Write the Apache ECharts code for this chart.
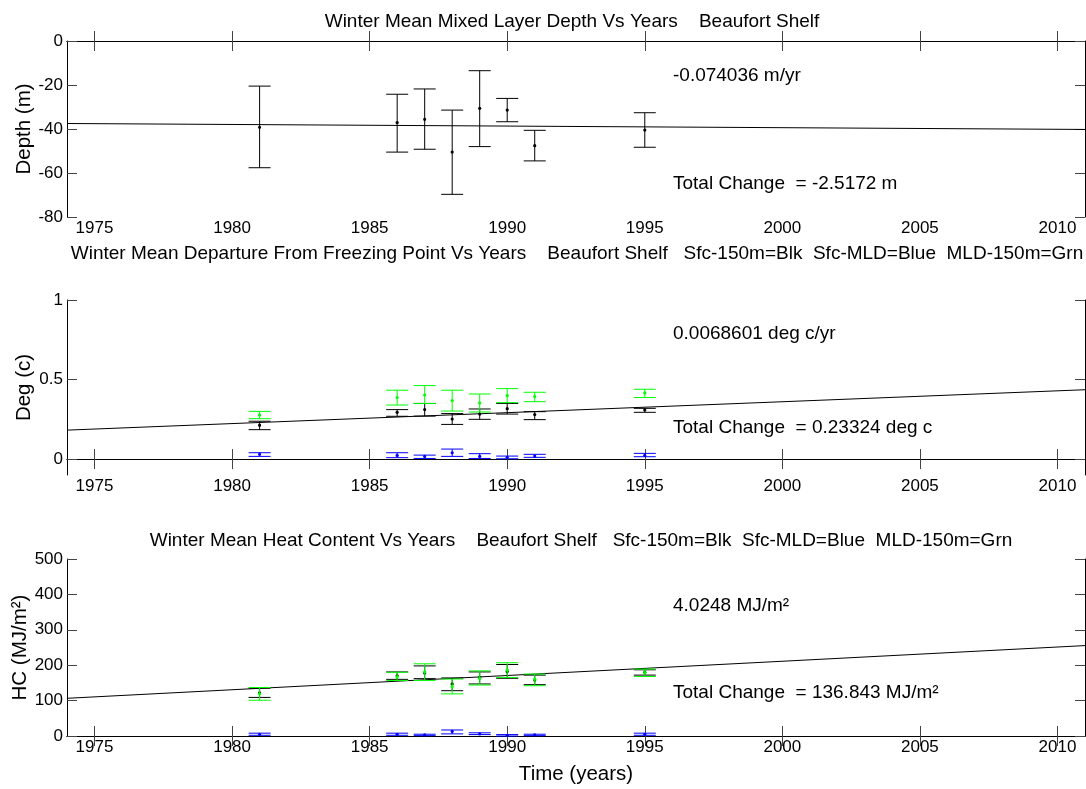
<!DOCTYPE html>
<html>
<head>
<meta charset="utf-8">
<script src="https://cdn.jsdelivr.net/npm/echarts@6/dist/echarts.min.js"></script>
<style>
  html, body { margin: 0; padding: 0; background: #fff; }
  #chart { width: 1086px; height: 789px; }
</style>
</head>
<body>
<div id="chart"></div>
<script>
  // years that have winter data
  const years = [1981, 1986, 1987, 1988, 1989, 1990, 1991, 1995];
  const yearTicks = [1975, 1980, 1985, 1990, 1995, 2000, 2005, 2010];
  const trendYears = [1974, 2011];

  // panel 1: mixed layer depth (m)
  const mldMean = [-39.2, -37.1, -35.6, -50.5, -30.6, -31.4, -47.6, -40.5];
  const mldLow = [-57.6, -50.5, -49.2, -69.7, -48.0, -36.7, -54.5, -48.3];
  const mldHigh = [-20.5, -24.2, -21.8, -31.4, -13.5, -26.1, -40.6, -32.6];
  const mldTrend = [-37.5, -40.2];

  // panel 2: departure from freezing point (deg c)
  const dfpBlkMean = [0.213, 0.294, 0.311, 0.252, 0.283, 0.317, 0.280, 0.309];
  const dfpBlkLow = [0.185, 0.269, 0.270, 0.218, 0.250, 0.283, 0.248, 0.294];
  const dfpBlkHigh = [0.238, 0.311, 0.350, 0.286, 0.315, 0.350, 0.298, 0.319];
  const dfpBluMean = [0.030, 0.023, 0.017, 0.040, 0.017, 0.011, 0.019, 0.023];
  const dfpBluLow = [0.017, 0.009, 0.004, 0.017, 0.004, 0.002, 0.011, 0.015];
  const dfpBluHigh = [0.040, 0.040, 0.025, 0.063, 0.034, 0.019, 0.030, 0.036];
  const dfpGrnMean = [0.277, 0.387, 0.403, 0.368, 0.353, 0.399, 0.393, 0.416];
  const dfpGrnLow = [0.254, 0.340, 0.349, 0.302, 0.296, 0.355, 0.361, 0.387];
  const dfpGrnHigh = [0.300, 0.433, 0.462, 0.433, 0.409, 0.443, 0.420, 0.439];
  const dfpTrend = [0.182, 0.436];
  const dfpTicks = [0, 0.5, 1];

  // panel 3: heat content (MJ/m2)
  const hcBlkMean = [122, 170, 178, 147, 165, 182, 158, 180];
  const hcBlkLow = [109, 160, 162, 128, 147, 163, 145, 172];
  const hcBlkHigh = [135, 181, 198, 164, 181, 202, 172, 187];
  const hcBluMean = [5, 5, 3, 13, 6, 2, 3, 5];
  const hcBluLow = [2, 2, 1, 6, 4, 0, 1, 2];
  const hcBluHigh = [8, 8, 5, 17, 9, 4, 5, 8];
  const hcGrnMean = [119, 167, 181, 140, 163, 186, 160, 179];
  const hcGrnLow = [101, 157, 157, 119, 144, 165, 142, 168];
  const hcGrnHigh = [137, 180, 204, 161, 184, 207, 175, 189];
  const hcTrend = [106.5, 255.4];

  const FONT = "'Liberation Sans', Arial, Helvetica, sans-serif";

  function rows(mean, low, high) {
    return years.map((y, i) => [y, mean[i], low[i], high[i]]);
  }

  // errorbar: stem, two caps and a small dot
  function errBar(color) {
    return function (params, api) {
      const x = api.value(0);
      const c = api.coord([x, api.value(1)]);
      const lo = api.coord([x, api.value(2)]);
      const hi = api.coord([x, api.value(3)]);
      const w = 11;
      const st = { stroke: color, lineWidth: 1 };
      return {
        type: 'group',
        children: [
          { type: 'line', shape: { x1: lo[0], y1: lo[1], x2: hi[0], y2: hi[1] }, style: st },
          { type: 'line', shape: { x1: lo[0] - w, y1: lo[1], x2: lo[0] + w, y2: lo[1] }, style: st },
          { type: 'line', shape: { x1: hi[0] - w, y1: hi[1], x2: hi[0] + w, y2: hi[1] }, style: st },
          { type: 'circle', shape: { cx: c[0], cy: c[1], r: 1.6 }, style: { fill: color } },
        ],
      };
    };
  }

  function errSeries(idx, color, data) {
    return {
      type: 'custom',
      xAxisIndex: idx * 2,
      yAxisIndex: idx * 2,
      renderItem: errBar(color),
      data: data,
      z: 3,
    };
  }

  function trendSeries(idx, vals) {
    return {
      type: 'line',
      xAxisIndex: idx * 2,
      yAxisIndex: idx * 2,
      data: trendYears.map((y, i) => [y, vals[i]]),
      symbol: 'none',
      lineStyle: { color: '#000', width: 1 },
      z: 2,
    };
  }

  const tops = [41, 300, 559];
  const heights = [176, 175, 177];

  const axisLineSt = { show: true, lineStyle: { color: '#000', width: 1 } };
  const tickSt = { show: true, inside: true, length: 10, lineStyle: { color: '#444' } };
  const labelSt = { color: '#000', fontSize: 17, fontFamily: FONT };
  const nameSt = { color: '#000', fontSize: 20.5, fontFamily: FONT };

  const xAxes = [];
  const yAxes = [];
  const yCfg = [
    { min: -80, max: 0, ticks: [-80, -60, -40, -20, 0], name: 'Depth (m)', gap: 32 },
    { min: -0.1, max: 1, ticks: dfpTicks, name: 'Deg (c)', gap: 32 },
    { min: 0, max: 500, ticks: [0, 100, 200, 300, 400, 500], name: 'HC (MJ/m²)', gap: 36 },
  ];

  for (let i = 0; i < 3; i++) {
    xAxes.push({
      type: 'value', gridIndex: i, min: 1974, max: 2011, position: 'bottom',
      axisLine: axisLineSt,
      axisTick: Object.assign({ customValues: yearTicks }, tickSt),
      axisLabel: Object.assign({ customValues: yearTicks, margin: 3, formatter: (v) => String(v) }, labelSt),
      splitLine: { show: false },
      name: i === 2 ? 'Time (years)' : '',
      nameLocation: 'middle', nameGap: 28, nameMoveOverlap: false,
      nameTextStyle: nameSt,
    });
    xAxes.push({
      type: 'value', gridIndex: i, min: 1974, max: 2011, position: 'top',
      axisLine: axisLineSt,
      axisTick: Object.assign({ customValues: yearTicks }, tickSt),
      axisLabel: { show: false },
      splitLine: { show: false },
    });
    const c = yCfg[i];
    yAxes.push({
      type: 'value', gridIndex: i, min: c.min, max: c.max, position: 'left',
      axisLine: axisLineSt,
      axisTick: Object.assign({ customValues: c.ticks }, tickSt),
      axisLabel: Object.assign({ customValues: c.ticks, margin: 4 }, labelSt),
      splitLine: { show: false },
      name: c.name, nameLocation: 'middle', nameGap: c.gap, nameRotate: 90, nameMoveOverlap: false,
      nameTextStyle: nameSt,
    });
    yAxes.push({
      type: 'value', gridIndex: i, min: c.min, max: c.max, position: 'right',
      axisLine: axisLineSt,
      axisTick: Object.assign({ customValues: c.ticks }, tickSt),
      axisLabel: { show: false },
      splitLine: { show: false },
    });
  }

  const titleSt = { color: '#000', fontSize: 19, fontWeight: 'normal', fontFamily: FONT };
  const noteSt = { fill: '#000', fontSize: 19, fontFamily: FONT };

  const option = {
    backgroundColor: '#fff',
    animation: false,
    title: [
      { text: 'Winter Mean Mixed Layer Depth Vs Years    Beaufort Shelf', left: 567, top: 7, textAlign: 'center', textStyle: titleSt },
      { text: 'Winter Mean Departure From Freezing Point Vs Years    Beaufort Shelf   Sfc-150m=Blk  Sfc-MLD=Blue  MLD-150m=Grn', left: 572, top: 239, textAlign: 'center', textStyle: titleSt },
      { text: 'Winter Mean Heat Content Vs Years    Beaufort Shelf   Sfc-150m=Blk  Sfc-MLD=Blue  MLD-150m=Grn', left: 576, top: 526, textAlign: 'center', textStyle: titleSt },
    ],
    grid: tops.map((t, i) => ({ left: 67, right: 1, top: t, height: heights[i] })),
    xAxis: xAxes,
    yAxis: yAxes,
    graphic: [
      { type: 'text', left: 673, top: 66, style: Object.assign({ text: '-0.074036 m/yr' }, noteSt) },
      { type: 'text', left: 673, top: 174, style: Object.assign({ text: 'Total Change  = -2.5172 m' }, noteSt) },
      { type: 'text', left: 673, top: 324, style: Object.assign({ text: '0.0068601 deg c/yr' }, noteSt) },
      { type: 'text', left: 673, top: 418, style: Object.assign({ text: 'Total Change  = 0.23324 deg c' }, noteSt) },
      { type: 'text', left: 673, top: 596, style: Object.assign({ text: '4.0248 MJ/m²' }, noteSt) },
      { type: 'text', left: 673, top: 683, style: Object.assign({ text: 'Total Change  = 136.843 MJ/m²' }, noteSt) },
    ],
    series: [
      trendSeries(0, mldTrend),
      errSeries(0, '#000', rows(mldMean, mldLow, mldHigh)),

      trendSeries(1, dfpTrend),
      errSeries(1, '#000', rows(dfpBlkMean, dfpBlkLow, dfpBlkHigh)),
      errSeries(1, '#0000ff', rows(dfpBluMean, dfpBluLow, dfpBluHigh)),
      errSeries(1, '#00ff00', rows(dfpGrnMean, dfpGrnLow, dfpGrnHigh)),

      trendSeries(2, hcTrend),
      errSeries(2, '#000', rows(hcBlkMean, hcBlkLow, hcBlkHigh)),
      errSeries(2, '#0000ff', rows(hcBluMean, hcBluLow, hcBluHigh)),
      errSeries(2, '#00ff00', rows(hcGrnMean, hcGrnLow, hcGrnHigh)),
    ],
  };

  const chart = echarts.init(document.getElementById('chart'));
  chart.setOption(option);
  window.addEventListener('resize', () => chart.resize());
</script>
</body>
</html>
